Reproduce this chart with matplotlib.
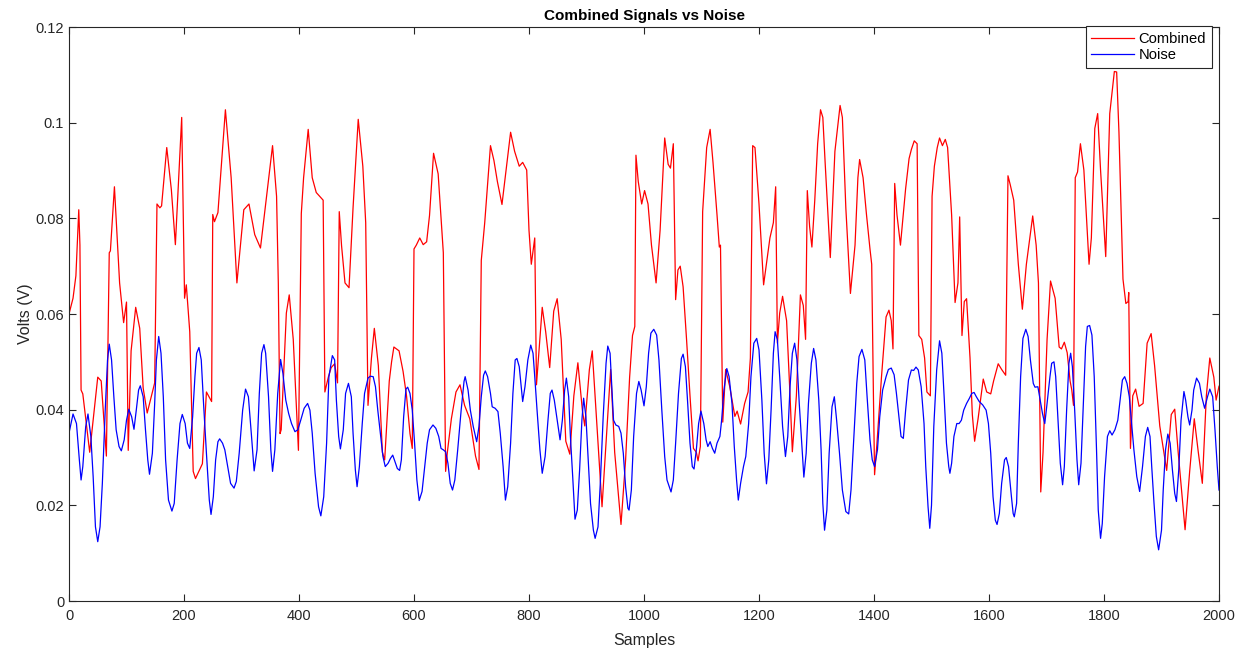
import matplotlib
matplotlib.use("Agg")
import matplotlib.pyplot as plt

# values (sample index, volts)
noise_s = [0, 7, 13, 18, 21, 24, 29, 33, 38, 42, 46, 50, 54, 58, 63, 67, 70, 74, 78, 82,
           87, 91, 96, 100, 104, 109, 113, 117, 121, 124, 129, 133, 137, 140, 145, 149, 152, 156, 160, 164,
           168, 173, 179, 183, 188, 193, 197, 202, 206, 210, 215, 219, 222, 226, 230, 234, 239, 244, 247, 251,
           255, 259, 262, 267, 271, 276, 281, 287, 291, 296, 302, 307, 312, 317, 322, 327, 331, 335, 339, 342,
           347, 351, 354, 358, 363, 368, 372, 377, 382, 387, 393, 398, 403, 409, 415, 419, 423, 428, 434, 438,
           443, 448, 452, 458, 462, 465, 469, 472, 477, 481, 486, 491, 494, 498, 501, 505, 510, 514, 520, 524,
           529, 533, 537, 542, 546, 550, 555, 559, 563, 567, 571, 575, 578, 582, 586, 589, 593, 597, 601, 605,
           609, 614, 618, 623, 627, 633, 638, 643, 647, 651, 655, 659, 663, 667, 671, 676, 682, 687, 689, 694,
           698, 703, 709, 713, 717, 721, 724, 728, 733, 736, 741, 746, 750, 755, 759, 763, 768, 772, 776, 779,
           783, 787, 789, 793, 798, 803, 807, 810, 814, 819, 823, 828, 833, 837, 840, 844, 849, 854, 858, 862,
           865, 869, 872, 876, 880, 884, 888, 892, 895, 899, 903, 907, 912, 915, 920, 924, 929, 934, 937, 941,
           944, 947, 951, 956, 960, 964, 968, 972, 974, 978, 982, 987, 991, 995, 1000, 1004, 1008, 1012, 1017, 1022,
           1026, 1031, 1036, 1040, 1044, 1047, 1051, 1055, 1060, 1065, 1068, 1072, 1076, 1080, 1084, 1087, 1091, 1095, 1099, 1104,
           1108, 1111, 1115, 1119, 1123, 1127, 1132, 1135, 1139, 1144, 1148, 1153, 1157, 1161, 1164, 1168, 1173, 1177, 1182, 1186,
           1191, 1196, 1200, 1205, 1209, 1213, 1217, 1221, 1225, 1228, 1232, 1236, 1241, 1246, 1250, 1254, 1258, 1262, 1266, 1270,
           1275, 1278, 1282, 1286, 1291, 1295, 1299, 1304, 1308, 1311, 1314, 1318, 1322, 1327, 1331, 1335, 1340, 1345, 1351, 1356,
           1360, 1365, 1370, 1374, 1379, 1384, 1388, 1393, 1397, 1401, 1406, 1410, 1415, 1421, 1425, 1430, 1435, 1439, 1444, 1447,
           1451, 1455, 1460, 1465, 1469, 1473, 1477, 1482, 1487, 1490, 1494, 1497, 1500, 1504, 1509, 1514, 1518, 1522, 1526, 1530,
           1532, 1535, 1539, 1544, 1548, 1552, 1556, 1561, 1566, 1570, 1574, 1578, 1583, 1589, 1595, 1599, 1603, 1607, 1611, 1614,
           1618, 1622, 1627, 1630, 1634, 1639, 1642, 1644, 1648, 1651, 1655, 1659, 1664, 1668, 1672, 1677, 1680, 1685, 1688, 1693,
           1697, 1701, 1706, 1709, 1713, 1716, 1720, 1724, 1728, 1731, 1735, 1739, 1742, 1745, 1749, 1753, 1756, 1760, 1764, 1768,
           1771, 1775, 1779, 1783, 1787, 1790, 1794, 1797, 1801, 1806, 1810, 1814, 1819, 1824, 1828, 1832, 1836, 1840, 1844, 1848,
           1852, 1857, 1862, 1867, 1872, 1876, 1880, 1883, 1887, 1891, 1895, 1900, 1903, 1907, 1911, 1915, 1919, 1923, 1926, 1930,
           1934, 1939, 1942, 1946, 1949, 1953, 1956, 1961, 1966, 1970, 1975, 1980, 1984, 1989, 1993, 1997, 2000]
noise_v = [0.0351, 0.0391, 0.0371, 0.0295, 0.0253, 0.0281, 0.0364, 0.0391, 0.0344, 0.0260, 0.0155, 0.0124, 0.0155, 0.0246, 0.0399, 0.0504, 0.0537, 0.0504, 0.0427, 0.0358,
           0.0323, 0.0314, 0.0337, 0.0378, 0.0401, 0.0385, 0.0359, 0.0399, 0.0441, 0.0450, 0.0427, 0.0358, 0.0295, 0.0265, 0.0309, 0.0413, 0.0504, 0.0553, 0.0518, 0.0427,
           0.0295, 0.0211, 0.0188, 0.0204, 0.0295, 0.0371, 0.0390, 0.0371, 0.0330, 0.0319, 0.0385, 0.0469, 0.0518, 0.0530, 0.0504, 0.0413, 0.0309, 0.0211, 0.0181, 0.0218,
           0.0295, 0.0333, 0.0339, 0.0330, 0.0316, 0.0281, 0.0246, 0.0236, 0.0250, 0.0309, 0.0399, 0.0443, 0.0427, 0.0351, 0.0272, 0.0316, 0.0434, 0.0518, 0.0536, 0.0518,
           0.0427, 0.0316, 0.0271, 0.0316, 0.0434, 0.0505, 0.0476, 0.0420, 0.0392, 0.0371, 0.0354, 0.0358, 0.0378, 0.0403, 0.0413, 0.0399, 0.0351, 0.0267, 0.0197, 0.0178,
           0.0218, 0.0330, 0.0469, 0.0513, 0.0504, 0.0420, 0.0344, 0.0318, 0.0358, 0.0434, 0.0455, 0.0427, 0.0351, 0.0274, 0.0239, 0.0281, 0.0371, 0.0434, 0.0466, 0.0470,
           0.0469, 0.0448, 0.0399, 0.0344, 0.0302, 0.0281, 0.0288, 0.0298, 0.0305, 0.0291, 0.0277, 0.0273, 0.0295, 0.0385, 0.0443, 0.0447, 0.0434, 0.0399, 0.0330, 0.0253,
           0.0210, 0.0229, 0.0274, 0.0330, 0.0358, 0.0368, 0.0361, 0.0344, 0.0319, 0.0316, 0.0312, 0.0288, 0.0246, 0.0232, 0.0253, 0.0316, 0.0399, 0.0459, 0.0469, 0.0441,
           0.0399, 0.0365, 0.0333, 0.0365, 0.0427, 0.0472, 0.0481, 0.0469, 0.0434, 0.0406, 0.0403, 0.0396, 0.0351, 0.0281, 0.0211, 0.0239, 0.0330, 0.0434, 0.0504, 0.0507,
           0.0490, 0.0441, 0.0417, 0.0448, 0.0504, 0.0535, 0.0518, 0.0469, 0.0399, 0.0316, 0.0267, 0.0302, 0.0378, 0.0434, 0.0441, 0.0420, 0.0378, 0.0337, 0.0378, 0.0441,
           0.0466, 0.0427, 0.0344, 0.0260, 0.0171, 0.0190, 0.0274, 0.0378, 0.0424, 0.0385, 0.0295, 0.0204, 0.0148, 0.0131, 0.0155, 0.0246, 0.0385, 0.0497, 0.0533, 0.0518,
           0.0448, 0.0378, 0.0368, 0.0365, 0.0351, 0.0309, 0.0239, 0.0194, 0.0190, 0.0232, 0.0344, 0.0434, 0.0459, 0.0441, 0.0408, 0.0448, 0.0518, 0.0560, 0.0568, 0.0556,
           0.0504, 0.0399, 0.0302, 0.0253, 0.0239, 0.0228, 0.0253, 0.0330, 0.0434, 0.0507, 0.0516, 0.0490, 0.0413, 0.0330, 0.0281, 0.0276, 0.0316, 0.0371, 0.0397, 0.0371,
           0.0337, 0.0323, 0.0333, 0.0319, 0.0309, 0.0330, 0.0344, 0.0378, 0.0441, 0.0486, 0.0469, 0.0413, 0.0323, 0.0253, 0.0211, 0.0246, 0.0281, 0.0302, 0.0371, 0.0469,
           0.0539, 0.0549, 0.0525, 0.0420, 0.0309, 0.0245, 0.0295, 0.0399, 0.0518, 0.0563, 0.0546, 0.0469, 0.0365, 0.0302, 0.0344, 0.0448, 0.0518, 0.0539, 0.0504, 0.0413,
           0.0316, 0.0259, 0.0309, 0.0413, 0.0497, 0.0528, 0.0504, 0.0420, 0.0316, 0.0204, 0.0148, 0.0190, 0.0309, 0.0406, 0.0427, 0.0378, 0.0309, 0.0232, 0.0187, 0.0182,
           0.0232, 0.0344, 0.0455, 0.0511, 0.0526, 0.0504, 0.0427, 0.0337, 0.0295, 0.0281, 0.0316, 0.0385, 0.0441, 0.0469, 0.0484, 0.0487, 0.0473, 0.0434, 0.0378, 0.0344,
           0.0340, 0.0399, 0.0462, 0.0483, 0.0482, 0.0489, 0.0483, 0.0448, 0.0371, 0.0281, 0.0197, 0.0152, 0.0200, 0.0365, 0.0483, 0.0544, 0.0518, 0.0427, 0.0330, 0.0281,
           0.0267, 0.0288, 0.0344, 0.0371, 0.0371, 0.0378, 0.0399, 0.0413, 0.0424, 0.0434, 0.0436, 0.0427, 0.0417, 0.0410, 0.0399, 0.0371, 0.0309, 0.0218, 0.0169, 0.0160,
           0.0183, 0.0246, 0.0295, 0.0300, 0.0281, 0.0218, 0.0183, 0.0176, 0.0204, 0.0330, 0.0469, 0.0549, 0.0568, 0.0553, 0.0504, 0.0455, 0.0447, 0.0448, 0.0427, 0.0392,
           0.0371, 0.0413, 0.0469, 0.0497, 0.0500, 0.0469, 0.0378, 0.0288, 0.0243, 0.0281, 0.0399, 0.0497, 0.0518, 0.0490, 0.0399, 0.0295, 0.0243, 0.0288, 0.0413, 0.0532,
           0.0574, 0.0576, 0.0556, 0.0469, 0.0316, 0.0190, 0.0131, 0.0162, 0.0260, 0.0344, 0.0356, 0.0347, 0.0358, 0.0378, 0.0420, 0.0462, 0.0469, 0.0455, 0.0427, 0.0371,
           0.0316, 0.0260, 0.0229, 0.0281, 0.0344, 0.0363, 0.0344, 0.0281, 0.0204, 0.0135, 0.0107, 0.0148, 0.0232, 0.0316, 0.0349, 0.0330, 0.0274, 0.0225, 0.0208, 0.0274,
           0.0378, 0.0438, 0.0420, 0.0385, 0.0368, 0.0399, 0.0441, 0.0466, 0.0455, 0.0427, 0.0403, 0.0427, 0.0443, 0.0427, 0.0358, 0.0281, 0.0232]

comb_s = [0, 7, 12, 17, 19, 21, 24, 36, 50, 56, 65, 70, 72, 79, 88, 95, 100, 103, 108, 116,
          123, 129, 136, 149, 153, 158, 161, 170, 178, 185, 196, 201, 204, 210, 216, 220, 232, 239, 248, 250,
          253, 259, 272, 282, 292, 304, 313, 323, 333, 354, 361, 364, 367, 369, 378, 383, 390, 399, 404, 408,
          416, 423, 430, 439, 442, 445, 451, 456, 462, 467, 470, 474, 480, 487, 494, 503, 511, 516, 520, 526,
          531, 538, 545, 549, 557, 561, 565, 574, 581, 587, 593, 597, 600, 604, 610, 616, 622, 627, 634, 642,
          651, 655, 658, 665, 673, 680, 688, 697, 707, 713, 717, 723, 733, 739, 745, 753, 768, 775, 783, 789,
          796, 800, 804, 810, 813, 823, 829, 836, 843, 849, 856, 864, 871, 878, 885, 893, 897, 905, 910, 917,
          927, 935, 942, 949, 960, 968, 975, 980, 984, 986, 990, 996, 1001, 1007, 1013, 1021, 1028, 1036, 1042, 1046,
          1051, 1055, 1059, 1063, 1068, 1074, 1080, 1086, 1091, 1094, 1098, 1102, 1109, 1115, 1120, 1127, 1131, 1133, 1137, 1142,
          1149, 1158, 1162, 1168, 1175, 1181, 1185, 1189, 1193, 1200, 1208, 1219, 1225, 1229, 1232, 1236, 1241, 1248, 1254, 1258,
          1265, 1272, 1277, 1281, 1284, 1288, 1292, 1297, 1302, 1307, 1311, 1315, 1324, 1332, 1341, 1345, 1351, 1359, 1367, 1372,
          1375, 1381, 1387, 1393, 1396, 1399, 1401, 1405, 1413, 1421, 1426, 1430, 1433, 1436, 1440, 1446, 1455, 1461, 1465, 1470,
          1475, 1478, 1483, 1488, 1492, 1498, 1501, 1505, 1510, 1514, 1519, 1524, 1528, 1535, 1541, 1546, 1549, 1553, 1557, 1561,
          1567, 1571, 1575, 1581, 1590, 1596, 1603, 1608, 1616, 1622, 1629, 1633, 1637, 1643, 1651, 1658, 1665, 1676, 1682, 1686,
          1690, 1694, 1701, 1707, 1715, 1722, 1726, 1731, 1736, 1741, 1744, 1747, 1750, 1754, 1759, 1765, 1774, 1778, 1784, 1789,
          1794, 1803, 1810, 1818, 1822, 1826, 1833, 1838, 1842, 1843, 1846, 1850, 1855, 1861, 1868, 1875, 1882, 1888, 1897, 1909,
          1917, 1923, 1929, 1941, 1949, 1957, 1964, 1971, 1978, 1984, 1991, 1995, 2000]
comb_v = [0.06, 0.0633, 0.068, 0.0818, 0.0744, 0.0441, 0.0433, 0.0311, 0.0468, 0.046, 0.0303, 0.0728, 0.0732, 0.0866, 0.0665, 0.0582, 0.0625, 0.0315, 0.0523, 0.0614,
          0.057, 0.0445, 0.0393, 0.0456, 0.0830, 0.0822, 0.0826, 0.0948, 0.086, 0.0745, 0.1011, 0.0633, 0.0661, 0.0563, 0.0271, 0.0256, 0.0287, 0.0437, 0.0417, 0.0808,
          0.0793, 0.0812, 0.1027, 0.0885, 0.0665, 0.0818, 0.083, 0.0766, 0.0738, 0.0952, 0.0846, 0.0665, 0.0350, 0.0358, 0.0602, 0.064, 0.0547, 0.0315, 0.081, 0.0885,
          0.0986, 0.0885, 0.0854, 0.0842, 0.0838, 0.0437, 0.0468, 0.0488, 0.0496, 0.0456, 0.0814, 0.0743, 0.0665, 0.0655, 0.0822, 0.1007, 0.0909, 0.0791, 0.0409, 0.0508,
          0.057, 0.0492, 0.0311, 0.0295, 0.046, 0.05, 0.0531, 0.0523, 0.048, 0.0429, 0.035, 0.0319, 0.0736, 0.0744, 0.0759, 0.0745, 0.0751, 0.0806, 0.0936, 0.0893,
          0.0728, 0.0271, 0.0311, 0.0381, 0.0437, 0.0452, 0.0409, 0.0381, 0.0303, 0.0275, 0.0712, 0.0791, 0.0952, 0.0921, 0.0877, 0.0829, 0.0980, 0.094, 0.0909, 0.0917,
          0.0901, 0.0775, 0.0704, 0.0759, 0.0452, 0.0614, 0.0563, 0.0488, 0.0606, 0.0632, 0.0547, 0.0334, 0.0307, 0.0429, 0.0498, 0.0397, 0.0366, 0.0484, 0.0523, 0.039,
          0.0197, 0.035, 0.0484, 0.0311, 0.016, 0.0295, 0.0468, 0.0555, 0.0574, 0.0932, 0.0877, 0.083, 0.0858, 0.083, 0.0744, 0.0665, 0.0775, 0.0968, 0.0913, 0.0905,
          0.0956, 0.0630, 0.0692, 0.07, 0.0657, 0.0547, 0.0429, 0.0319, 0.0311, 0.0293, 0.0323, 0.0814, 0.0948, 0.0986, 0.0917, 0.0807, 0.074, 0.0744, 0.0374, 0.0484,
          0.0449, 0.0386, 0.0397, 0.037, 0.0413, 0.0437, 0.0508, 0.0952, 0.0948, 0.0830, 0.0661, 0.0759, 0.0791, 0.0866, 0.0539, 0.0602, 0.0637, 0.0586, 0.0429, 0.0312,
          0.0429, 0.064, 0.0618, 0.0547, 0.0858, 0.0783, 0.074, 0.0838, 0.0956, 0.1027, 0.1011, 0.0917, 0.0718, 0.094, 0.1036, 0.1011, 0.0822, 0.0643, 0.0744, 0.0885,
          0.0923, 0.0885, 0.0807, 0.0736, 0.0704, 0.0429, 0.0264, 0.0327, 0.0468, 0.0594, 0.0608, 0.0586, 0.0527, 0.0873, 0.0807, 0.0744, 0.0862, 0.0925, 0.0944, 0.0962,
          0.0956, 0.0555, 0.0547, 0.0508, 0.0437, 0.0429, 0.0846, 0.0909, 0.0948, 0.0968, 0.0952, 0.0965, 0.0948, 0.0807, 0.0624, 0.0665, 0.0803, 0.0555, 0.0626, 0.0632,
          0.0508, 0.0390, 0.0334, 0.0381, 0.0464, 0.0437, 0.0433, 0.046, 0.0496, 0.0484, 0.0472, 0.0889, 0.087, 0.0838, 0.0704, 0.061, 0.0704, 0.0805, 0.0744, 0.0665,
          0.0228, 0.0311, 0.0547, 0.0669, 0.0633, 0.0531, 0.0527, 0.0541, 0.0519, 0.046, 0.0441, 0.0409, 0.0885, 0.0897, 0.0956, 0.0901, 0.0704, 0.0759, 0.0988, 0.1019,
          0.0901, 0.072, 0.1019, 0.1107, 0.1106, 0.098, 0.0673, 0.0622, 0.0626, 0.0645, 0.0319, 0.0429, 0.0443, 0.0407, 0.0413, 0.0539, 0.0559, 0.0492, 0.0366, 0.0273,
          0.039, 0.0401, 0.0311, 0.0149, 0.0271, 0.0381, 0.0311, 0.0246, 0.0429, 0.0508, 0.0468, 0.042, 0.0449]

x_ticks = [0, 200, 400, 600, 800, 1000, 1200, 1400, 1600, 1800, 2000]
y_ticks = [0, 0.02, 0.04, 0.06, 0.08, 0.1, 0.12]
y_labels = ["0", "0.02", "0.04", "0.06", "0.08", "0.1", "0.12"]

plt.rcParams["font.family"] = ["Liberation Sans", "DejaVu Sans"]
ax_col = "#262626"

fig = plt.figure(figsize=(12.5, 6.51), dpi=100)
ax = fig.add_axes([0.0552, 0.0768, 0.92, 0.8817])

ax.plot(comb_s, comb_v, color="red", lw=0.9, label="Combined")
ax.plot(noise_s, noise_v, color="blue", lw=0.9, label="Noise")

ax.set_xlim(0, 2000)
ax.set_ylim(0, 0.12)
ax.set_xticks(x_ticks)
ax.set_yticks(y_ticks)
ax.set_yticklabels(y_labels)
ax.tick_params(direction="in", top=True, right=True, length=5, width=0.8,
               colors=ax_col, labelsize=10.5)
ax.tick_params(axis="x", pad=6)
for sp in ax.spines.values():
    sp.set_color(ax_col)
    sp.set_linewidth(0.8)

ax.set_title("Combined Signals vs Noise", fontsize=11, fontweight="bold", color="black", pad=5)
ax.set_xlabel("Samples", fontsize=11.5, color=ax_col, labelpad=7)
ax.set_ylabel("Volts (V)", fontsize=11.5, color=ax_col, labelpad=2)

leg = ax.legend(loc="upper right", bbox_to_anchor=(0.9939, 1.002), fontsize=10.6,
                frameon=True, fancybox=False, framealpha=1, edgecolor=ax_col,
                handlelength=2.9, handletextpad=0.3, borderaxespad=0,
                borderpad=0.4, labelspacing=0.15)
leg.get_frame().set_linewidth(0.8)

fig.savefig("out.png", dpi=100)
